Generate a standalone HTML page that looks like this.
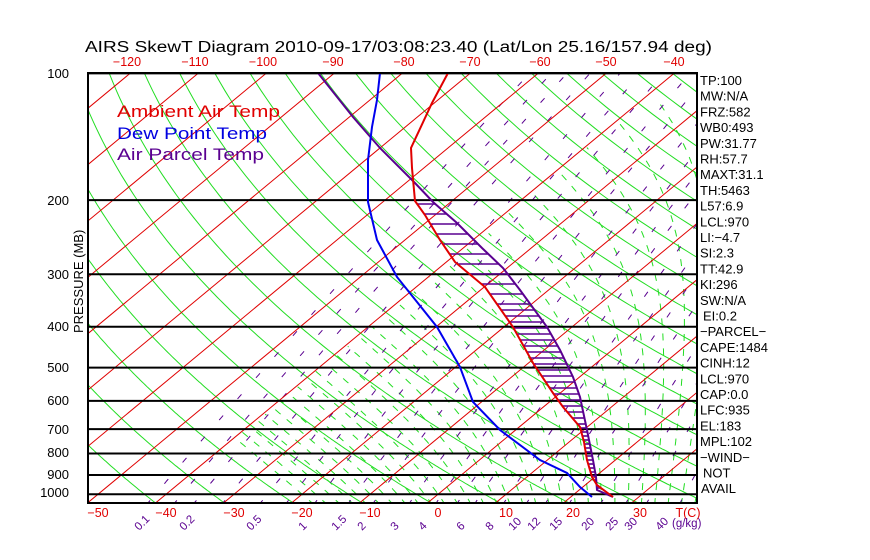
<!DOCTYPE html>
<html><head><meta charset="utf-8"><style>
html,body{margin:0;padding:0;background:#fff;width:870px;height:560px;overflow:hidden}
svg text{font-family:"Liberation Sans",sans-serif}
</style></head><body>
<svg id="s" width="870" height="560" xmlns="http://www.w3.org/2000/svg">
<defs><clipPath id="c"><rect x="88" y="73" width="609" height="430"/></clipPath></defs>
<g id="grid" clip-path="url(#c)"></g>
<g id="prof"></g>
<rect x="88" y="73" width="609" height="430" fill="none" stroke="#000" stroke-width="2"/>
<text x="85" y="52" font-size="15.5" fill="#000" textLength="627" lengthAdjust="spacingAndGlyphs">AIRS SkewT Diagram 2010-09-17/03:08:23.40 (Lat/Lon 25.16/157.94 deg)</text>
<g font-size="12.5" fill="#e00000" text-anchor="middle">
<text x="127" y="66">−120</text><text x="195" y="66">−110</text><text x="263" y="66">−100</text><text x="333" y="66">−90</text><text x="404" y="66">−80</text><text x="470" y="66">−70</text><text x="540" y="66">−60</text><text x="606" y="66">−50</text><text x="674" y="66">−40</text>
<text x="98" y="517">−50</text><text x="166" y="517">−40</text><text x="234" y="517">−30</text><text x="302" y="517">−20</text><text x="370" y="517">−10</text><text x="438" y="517">0</text><text x="506" y="517">10</text><text x="573" y="517">20</text><text x="640" y="517">30</text><text x="688" y="517">T(C)</text>
</g>
<g font-size="13" fill="#000" text-anchor="end">
<text x="69" y="78">100</text><text x="69" y="205">200</text><text x="69" y="279">300</text><text x="69" y="331">400</text><text x="69" y="372">500</text><text x="69" y="405">600</text><text x="69" y="434">700</text><text x="69" y="457">800</text><text x="69" y="479">900</text><text x="69" y="497">1000</text>
</g>
<text transform="translate(83,333) rotate(-90)" font-size="13" fill="#000">PRESSURE (MB)</text>
<g font-size="17">
<text x="117" y="117" fill="#e00000" textLength="163" lengthAdjust="spacingAndGlyphs">Ambient Air Temp</text>
<text x="117" y="139" fill="#0000e0" textLength="150" lengthAdjust="spacingAndGlyphs">Dew Point Temp</text>
<text x="117" y="160" fill="#5a0090" textLength="147" lengthAdjust="spacingAndGlyphs">Air Parcel Temp</text>
</g>
<g id="mrl" font-size="11.5" fill="#5a0090"></g>
<g id="rt" font-size="13" fill="#000"></g>
</svg>
<script>
var NS="http://www.w3.org/2000/svg";
function Y(p){return 494.3-182.8*Math.log(1000/p);}
function X(T,p){var y=Y(p);return 438+6.8*T+(494.3-y)*1.207;}
function line(g,pts,col,w,dash){if(pts.length<2)return;var e=document.createElementNS(NS,"polyline");e.setAttribute("points",pts.map(function(a){return a[0].toFixed(1)+","+a[1].toFixed(1)}).join(" "));e.setAttribute("fill","none");e.setAttribute("stroke",col);e.setAttribute("stroke-width",w);if(dash)e.setAttribute("stroke-dasharray",dash);g.appendChild(e);}
var g=document.getElementById("grid");
var P=[];for(var p=1060;p>=95;p-=5)P.push(p);
for(var th=200;th<=480;th+=10){var pts=P.map(function(p){var T=th*Math.pow(p/1000,0.286)-273.15;return[X(T,p),Y(p)];});line(g,pts,"#22dd22",1);}
function es(Tc){return 6.112*Math.exp(17.67*Tc/(Tc+243.5));}
function dTdp(T,p){var e=es(T-273.15),rs=0.622*e/(p-e);return (287*T+2.5e6*rs)/(1004+2.5e6*2.5e6*rs*0.622/(287*T*T))/p;}
function moist(tw){var T=tw+273.15,pts=[];
for(var q=1000;q<1060;q+=5){T+=dTdp(T,q)*5;}
for(var q=1060;q>=100;q-=5){if(T-273.15<-40)break;pts.push([X(T-273.15,q),Y(q)]);T-=dTdp(T,q)*5;}
return pts;}
for(var tw=-20;tw<=40;tw+=2){line(g,moist(tw),"#22dd22",1,"7 8");}
var W=[0.1,0.15,0.2,0.3,0.5,0.7,1,1.5,2,3,4,5,6,8,10,12,15,20,25,30,40];
W.forEach(function(w){var pts=[];for(var p=1060;p>=100;p-=10){var ww=w/1000,e=ww*p/(0.622+ww),l=Math.log(e/6.112),Td=243.5*l/(17.67-l);pts.push([X(Td,p),Y(p)]);}line(g,pts,"#5a0090",1,"6 22");});
for(var T=-180;T<=50;T+=10){line(g,[[X(T,1100),Y(1100)],[X(T,90),Y(90)]],"#e00000",1);}
[100,200,300,400,500,600,700,800,900,1000].forEach(function(p){line(g,[[88,Y(p)],[697,Y(p)]],"#000",2);});
var pr=document.getElementById("prof");
var red=[[448,73],[432,103],[411,148],[412,168],[415,201],[425,215],[440,240],[455,262],[485,287],[513,327],[533,363],[553,393],[563,407],[580,427],[584,442],[587,460],[592,477],[597,485],[613,497]];
var par=[[318,73],[353,117],[380,148],[415,183],[433,202],[457,223],[482,248],[503,268],[520,290],[547,327],[560,350],[573,377],[580,397],[587,430],[593,460],[596,477],[597,490],[613,497]];
var dew=[[380,73],[377,100],[372,127],[368,160],[368,202],[377,240],[397,277],[437,327],[460,367],[473,402],[500,430],[540,460],[567,473],[580,487],[592,497]];
function xi(pl,y){for(var i=0;i<pl.length-1;i++){if(y>=pl[i][1]&&y<=pl[i+1][1]){var t=(y-pl[i][1])/(pl[i+1][1]-pl[i][1]);return pl[i][0]+t*(pl[i+1][0]-pl[i][0]);}}return null;}
for(var y=204;y<=490;y+=(y<300?10:(y<420?6:4))){var a=xi(red,y),b=xi(par,y);if(a!=null&&b!=null)line(pr,[[a,y],[b,y]],"#5a0090",1.6);}
line(pr,par,"#5a0090",2);line(pr,red,"#e00000",2);line(pr,dew,"#0000ee",2);
var ml=[["0.1",143],["0.2",188],["0.5",255],["1",307],["1.5",340],["2",366],["3",399],["4",427],["6",465],["8",494],["10",517],["12",536],["15",558],["20",590],["25",614],["30",633],["40",664]];
var mg=document.getElementById("mrl");
ml.forEach(function(m){var t=document.createElementNS(NS,"text");t.setAttribute("transform","translate("+(m[1]-4)+",531) rotate(-45)");t.textContent=m[0];mg.appendChild(t);});
var t=document.createElementNS(NS,"text");t.setAttribute("x","672");t.setAttribute("y","527");t.textContent="(g/kg)";mg.appendChild(t);
var R=["TP:100","MW:N/A","FRZ:582","WB0:493","PW:31.77","RH:57.7","MAXT:31.1","TH:5463","L57:6.9","LCL:970","LI:−4.7","SI:2.3","TT:42.9","KI:296","SW:N/A","EI:0.2","−PARCEL−","CAPE:1484","CINH:12","LCL:970","CAP:0.0","LFC:935","EL:183","MPL:102","−WIND−","NOT","AVAIL"];
var rt=document.getElementById("rt");
R.forEach(function(s,i){var t=document.createElementNS(NS,"text");t.setAttribute("x",(s=="NOT"||s=="EI:0.2")?703:(s=="AVAIL"?701:700));t.setAttribute("y",85+i*15.7);t.textContent=s;rt.appendChild(t);});
</script>
</body></html>
